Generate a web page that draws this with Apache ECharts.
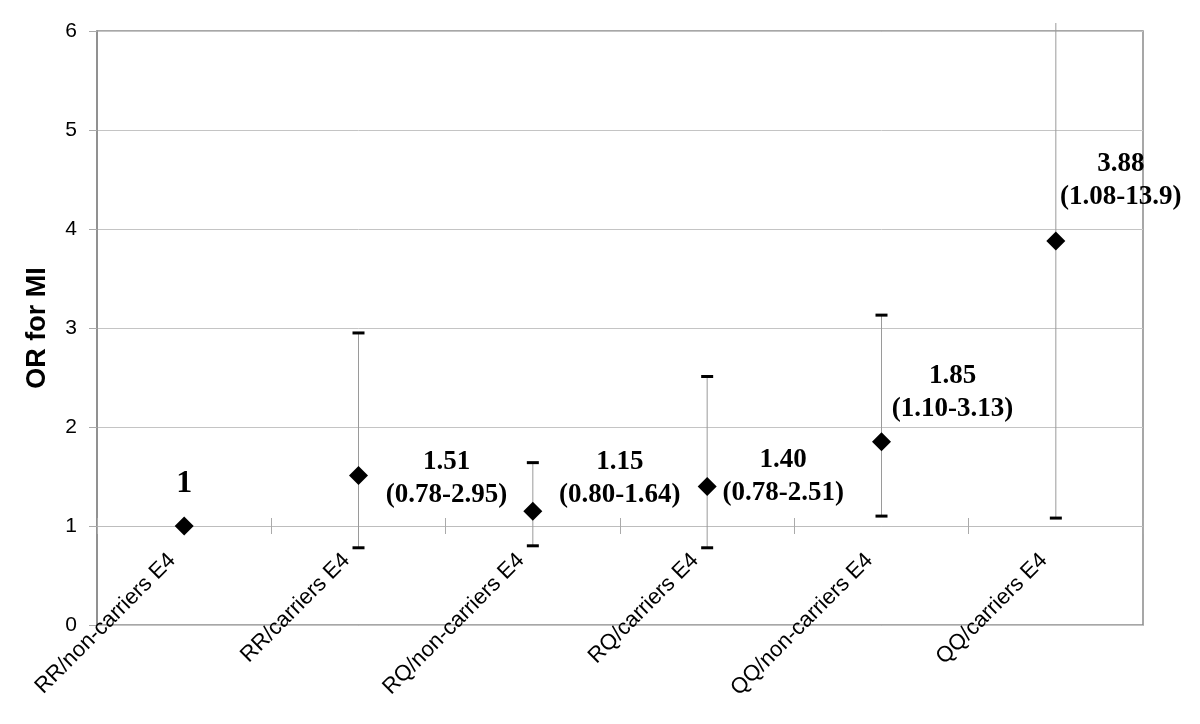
<!DOCTYPE html>
<html>
<head>
<meta charset="utf-8">
<script src="https://cdn.jsdelivr.net/npm/echarts@6/dist/echarts.min.js"></script>
<style>html,body{margin:0;padding:0;background:#fff;}#c{width:1200px;height:724px;}</style>
</head>
<body>
<div id="c"></div>
<script>
var categories = ['RR/non-carriers E4','RR/carriers E4','RQ/non-carriers E4','RQ/carriers E4','QQ/non-carriers E4','QQ/carriers E4'];
var orValues = [1, 1.51, 1.15, 1.40, 1.85, 3.88];
var ciLower = [null, 0.78, 0.80, 0.78, 1.10, 1.08];
var ciUpper = [null, 2.95, 1.64, 2.51, 3.13, 13.9];
var orText = ['1', '1.51', '1.15', '1.40', '1.85', '3.88'];
var ciText = [null, '(0.78-2.95)', '(0.80-1.64)', '(0.78-2.51)', '(1.10-3.13)', '(1.08-13.9)'];
var yMin = 0, yMax = 6, yInterval = 1;

var chart = echarts.init(document.getElementById('c'));
var gridTop = 31, gridBottom = 99;
var plotH = 724 - gridTop - gridBottom;
var axisOffset = -plotH * (1 - yMin) / (yMax - yMin);

var labelOffsets = [[0, -42], [88, 3], [87, -33], [76, -10], [71, -49], [65, -60]];

var scatterData = orValues.map(function (v, i) {
  var txt = ciText[i] ? ('{a|' + orText[i] + '}\n{a|' + ciText[i] + '}') : ('{b|' + orText[i] + '}');
  return {
    value: [i, v],
    label: { show: true, position: 'inside', offset: labelOffsets[i], formatter: txt }
  };
});

var errData = [];
for (var i = 0; i < categories.length; i++) {
  if (ciLower[i] != null) errData.push([i, ciLower[i], ciUpper[i]]);
}

var option = {
  backgroundColor: '#fff',
  animation: false,
  grid: { left: 97, right: 57, top: gridTop, bottom: gridBottom, show: true, borderColor: '#8a8a8a', borderWidth: 1.5, backgroundColor: 'transparent' },
  xAxis: [{
    type: 'category',
    data: categories,
    boundaryGap: true,
    offset: axisOffset,
    axisLine: { show: true, lineStyle: { color: '#bdbdbd', width: 1 } },
    axisTick: { show: true, length: 8, lineStyle: { color: '#aaa' } },
    axisLabel: { interval: 0, rotate: 45, margin: 19, padding: [0, 17, 0, 0], fontFamily: 'Liberation Sans', fontSize: 22, color: '#000' },
    splitLine: { show: false }
  }, {
    type: 'category',
    data: categories,
    boundaryGap: true,
    offset: axisOffset,
    position: 'bottom',
    axisLine: { show: false },
    axisTick: { show: true, inside: true, length: 8, lineStyle: { color: '#aaa' } },
    axisLabel: { show: false },
    splitLine: { show: false }
  }],
  yAxis: {
    type: 'value',
    min: yMin, max: yMax, interval: yInterval,
    name: 'OR for MI',
    nameLocation: 'middle',
    nameGap: 46,
    nameRotate: 90,
    nameTextStyle: { fontFamily: 'Liberation Sans', fontWeight: 'bold', fontSize: 27, color: '#000' },
    axisLine: { show: true, lineStyle: { color: '#8a8a8a', width: 1.5 } },
    axisTick: { show: true, length: 8, lineStyle: { color: '#aaa' } },
    axisLabel: { margin: 20, fontFamily: 'Liberation Sans', fontSize: 21, color: '#000' },
    splitLine: { show: true, lineStyle: { color: '#c4c4c4', width: 1 } }
  },
  series: [{
    type: 'custom',
    xAxisIndex: 0,
    clip: false,
    z: 2,
    data: errData,
    renderItem: function (params, api) {
      var x = api.value(0), lo = api.value(1), hi = api.value(2);
      var pLo = api.coord([x, lo]);
      var over = hi > yMax;
      var pHi = api.coord([x, over ? yMax : hi]);
      var topY = over ? pHi[1] - 8 : pHi[1];
      var capW = 6;
      var children = [{
        type: 'line',
        shape: { x1: pLo[0], y1: pLo[1], x2: pLo[0], y2: topY },
        style: { stroke: '#9a9a9a', lineWidth: 1 }
      }, {
        type: 'line',
        shape: { x1: pLo[0] - capW, y1: pLo[1], x2: pLo[0] + capW, y2: pLo[1] },
        style: { stroke: '#000', lineWidth: 3 }
      }];
      if (!over) {
        children.push({
          type: 'line',
          shape: { x1: pHi[0] - capW, y1: pHi[1], x2: pHi[0] + capW, y2: pHi[1] },
          style: { stroke: '#000', lineWidth: 3 }
        });
      }
      return { type: 'group', children: children };
    }
  }, {
    type: 'scatter',
    xAxisIndex: 0,
    z: 5,
    symbol: 'diamond',
    symbolSize: [19, 19],
    itemStyle: { color: '#000', opacity: 1 },
    data: scatterData,
    label: {
      show: true,
      color: '#000',
      opacity: 1,
      align: 'center',
      verticalAlign: 'middle',
      rich: {
        a: { fontFamily: 'Liberation Serif', fontWeight: 'bold', fontSize: 27, lineHeight: 33, color: '#000', align: 'center' },
        b: { fontFamily: 'Liberation Serif', fontWeight: 'bold', fontSize: 32, lineHeight: 36, color: '#000', align: 'center' }
      }
    }
  }]
};
chart.setOption(option);
</script>
</body>
</html>
